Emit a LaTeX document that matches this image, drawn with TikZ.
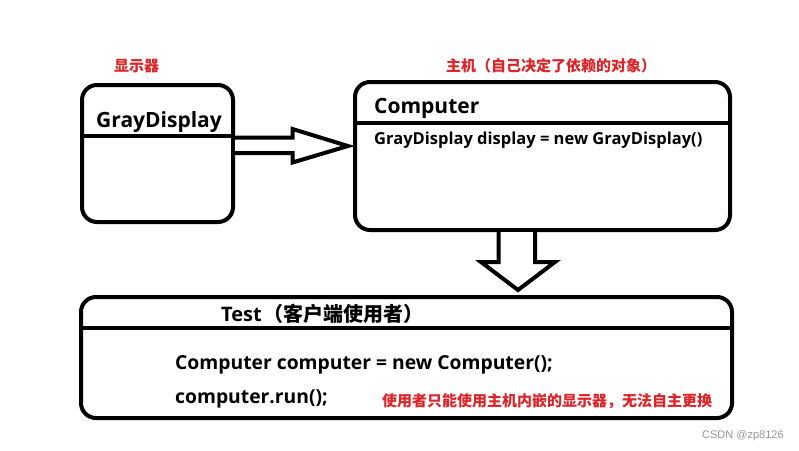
\documentclass[tikz,border=0pt]{standalone}
\usepackage{fontspec}
\setmainfont{Open Sans}
\newfontfamily\cjk{Noto Sans CJK SC}
\newfontfamily\wm{Liberation Sans}
\usetikzlibrary{calc}
\definecolor{lblred}{RGB}{222,36,40}
\definecolor{wmgray}{RGB}{150,150,150}
\tikzset{
  box/.style={draw=black, line width=4pt, rounded corners=15pt, inner sep=0pt, fill=white},
  divider/.style={draw=black, line width=4pt},
  blockarrow/.style={draw=black, line width=4pt, line join=miter, fill=white},
  lbl/.style={inner sep=0pt, anchor=base west, text=lblred, font=\cjk\bfseries\fontsize{15pt}{15pt}\selectfont},
  title/.style={inner sep=0pt, anchor=base west, font=\bfseries\fontsize{21pt}{21pt}\selectfont},
  code/.style={inner sep=0pt, anchor=base west, font=\bfseries\fontsize{19.3pt}{19.3pt}\selectfont},
}
\begin{document}
\begin{tikzpicture}[x=1pt, y=-1pt]
\useasboundingbox (0,0) rectangle (799,450);
% boxes
\node[box, minimum width=151pt, minimum height=137pt] (gd) at (157.5,153.5) {};
\node[box, minimum width=375pt, minimum height=148pt] (comp) at (542.5,156) {};
\node[box, minimum width=651pt, minimum height=121pt] (test) at (406.5,357.5) {};
% dividers
\coordinate (gdL) at (gd.west |- 0,136);
\coordinate (gdR) at (gd.east |- 0,136);
\coordinate (cpL) at (comp.west |- 0,123);
\coordinate (cpR) at (comp.east |- 0,123);
\coordinate (tsL) at (test.west |- 0,328);
\coordinate (tsR) at (test.east |- 0,328);
\draw[divider] (gdL) -- (gdR);
\draw[divider] (cpL) -- (cpR);
\draw[divider] (tsL) -- (tsR);
% arrow GrayDisplay -> Computer
\draw[blockarrow] (gd.east |- 0,137.5) -- (292.5,137.5) -- (292.5,129)
  -- ($(comp.west |- 0,146)+(-5,0)$) -- (292.5,162.5) -- (292.5,153) -- (gd.east |- 0,153);
% arrow Computer -> Test
\draw[blockarrow] (comp.south -| 498.5,0) -- (498.5,262) -- (481,262)
  -- ($(test.north -| 518,0)+(0,-5)$) -- (555,262) -- (535,262) -- (comp.south -| 535,0);
% texts
\node[lbl] (l1) at (114,71) {显示器};
\node[lbl] (l2) at (446,71) {主机（自己决定了依赖的对象）};
\node[title] (t1) at (96,127) {GrayDisplay};
\node[title] (t2) at (374,113) {Computer};
\node[inner sep=0pt, anchor=base west, font=\bfseries\fontsize{16.5pt}{16.5pt}\selectfont] (t3) at (374,144) {GrayDisplay display = new GrayDisplay()};
\node[inner sep=0pt, anchor=base west, font=\bfseries\fontsize{20pt}{20pt}\selectfont] (t4) at (221,321) {Test{\cjk\bfseries\kern2pt（客户端使用者）}};
\node[code] (t5) at (175,369) {Computer computer = new Computer();};
\node[code] (t6) at (175,403) {computer.run();};
\node[lbl] (l3) at (382,406) {使用者只能使用主机内嵌的显示器，无法自主更换};
\node[inner sep=0pt, anchor=base west, text=wmgray, font=\wm\fontsize{11pt}{11pt}\selectfont] (wm) at (702,438) {CSDN @zp8126};
\end{tikzpicture}
\end{document}
